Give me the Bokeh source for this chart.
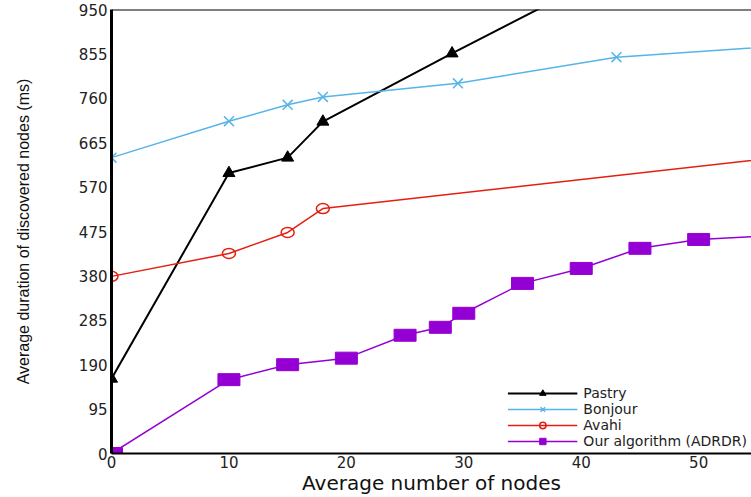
from bokeh.plotting import figure
from bokeh.models import FixedTicker, Span, Legend, LegendItem, Range1d
from bokeh.embed import file_html
from bokeh.resources import INLINE

# ---- data ----
x_ticks = [0, 10, 20, 30, 40, 50]
y_ticks = [0, 95, 190, 285, 380, 475, 570, 665, 760, 855, 950]

pastry_x = [0, 10, 15, 18, 29, 40]
pastry_y = [160, 600, 633, 710, 856, 998]

bonjour_x = [0, 10, 15, 18, 29.5, 43, 57]
bonjour_y = [633, 711, 746, 763, 792, 848, 872]

avahi_x = [0, 10, 15, 18, 57]
avahi_y = [379, 428, 473, 524, 634]

adrdr_x = [0, 10, 15, 20, 25, 28, 30, 35, 40, 45, 50, 57]
adrdr_y = [0, 158, 190, 204, 253, 270, 300, 364, 396, 439, 458, 467]

labels = ["Pastry", "Bonjour", "Avahi", "Our algorithm (ADRDR)"]
colors = ["#000000", "#56b4e9", "#e51e10", "#9400d3"]

p = figure(width=751, height=497,
           x_range=Range1d(0, 54.5), y_range=Range1d(0, 950),
           output_backend="svg", toolbar_location=None,
           min_border_left=111, min_border_right=0,
           min_border_top=9, min_border_bottom=42)
p.outline_line_color = None
p.grid.visible = False
p.background_fill_color = "white"
p.border_fill_color = "white"

tick_font = "DejaVu Sans"
for ax in (p.xaxis[0], p.yaxis[0]):
    ax.major_tick_out = 0
    ax.major_tick_in = 0
    ax.minor_tick_out = 0
    ax.minor_tick_in = 0
    ax.axis_line_color = "black"
    ax.major_label_text_font = tick_font
    ax.major_label_text_font_size = "15px"
    ax.major_label_text_color = "#222222"

p.xaxis.major_label_standoff = 2
p.yaxis.major_label_standoff = 4
p.xaxis.ticker = FixedTicker(ticks=x_ticks)
p.yaxis.ticker = FixedTicker(ticks=y_ticks)
p.yaxis.axis_line_width = 3
p.xaxis.axis_line_width = 2

p.xaxis.axis_label = "Average number of nodes"
p.xaxis.axis_label_text_font = tick_font
p.xaxis.axis_label_text_font_size = "20px"
p.xaxis.axis_label_text_font_style = "normal"
p.xaxis.axis_label_text_color = "#111111"
p.xaxis.axis_label_standoff = 0

p.yaxis.axis_label = "Average duration of discovered nodes (ms)"
p.yaxis.axis_label_text_font = "Liberation Sans"
p.yaxis.axis_label_text_font_size = "16px"
p.yaxis.axis_label_text_font_style = "normal"
p.yaxis.axis_label_text_color = "#111111"
p.yaxis.axis_label_standoff = 44

p.add_layout(Span(location=950, dimension="width", line_color="black", line_width=2))

# Pastry
l1 = p.line(pastry_x, pastry_y, line_color=colors[0], line_width=2)
m1 = p.scatter(pastry_x, pastry_y, marker="triangle", size=12,
               fill_color=colors[0], line_color=colors[0])

# Bonjour
l2 = p.line(bonjour_x, bonjour_y, line_color=colors[1], line_width=1.5)
m2 = p.scatter(bonjour_x, bonjour_y, marker="x", size=14,
               line_color=colors[1], line_width=1.5)

# Avahi
l3 = p.line(avahi_x, avahi_y, line_color=colors[2], line_width=1.5)
p.ellipse(avahi_x, avahi_y, width=13, height=10,
          width_units="screen", height_units="screen",
          fill_color=None, line_color=colors[2], line_width=1.5)
m3 = p.scatter(avahi_x, avahi_y, marker="circle", size=10,
               fill_color=None, line_color=colors[2], line_width=1.5)
m3.visible = False

# ADRDR
l4 = p.line(adrdr_x, adrdr_y, line_color=colors[3], line_width=1.5)
p.rect(adrdr_x, adrdr_y, width=22, height=12,
       width_units="screen", height_units="screen",
       fill_color=colors[3], line_color=colors[3])
m4 = p.scatter(adrdr_x, adrdr_y, marker="square", size=10,
               fill_color=colors[3], line_color=colors[3])
m4.visible = False

legend = Legend(items=[
    LegendItem(label=labels[0], renderers=[l1, m1]),
    LegendItem(label=labels[1], renderers=[l2, m2]),
    LegendItem(label=labels[2], renderers=[l3, m3]),
    LegendItem(label=labels[3], renderers=[l4, m4]),
], location="bottom_right")
legend.glyph_width = 70
legend.glyph_height = 16
legend.label_height = 13
legend.spacing = -2
legend.padding = 2
legend.margin = 4
legend.label_standoff = 6
legend.label_text_font = tick_font
legend.label_text_font_size = "14px"
legend.label_text_color = "#222222"
legend.background_fill_alpha = 0
legend.border_line_color = None
p.add_layout(legend)

open("out.html", "w").write(file_html(p, INLINE))
